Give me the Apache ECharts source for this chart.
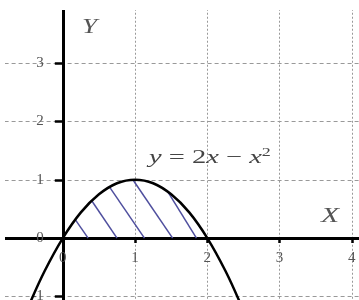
<!DOCTYPE html>
<html>
<head>
<meta charset="utf-8">
<script src="https://cdn.jsdelivr.net/npm/echarts@6/dist/echarts.min.js"></script>
<style>
  html, body { margin: 0; padding: 0; background: #fff; }
  #main { width: 359px; height: 300px; }
</style>
</head>
<body>
<div id="main"></div>
<script>
// curve y = 2x - x^2
var curveX = [-0.45, -0.25, 0, 0.25, 0.5, 0.75, 1, 1.25, 1.5, 1.75, 2, 2.25, 2.45];
var curveY = [-1.1, -0.56, 0, 0.44, 0.75, 0.94, 1, 0.94, 0.75, 0.44, 0, -0.56, -1.1];

// hatch strokes: from the x axis up to the curve
var hatchBottomX = [0.35, 0.75, 1.13, 1.52, 1.85];
var hatchTopX = [0.17, 0.40, 0.65, 0.97, 1.45];
var hatchTopY = [0.32, 0.64, 0.87, 1.0, 0.8];

var xTicks = [0, 1, 2, 3, 4];
var yTicks = [-1, 0, 1, 2, 3];

var serif = '"Liberation Serif", "DejaVu Serif", serif';

// grid: x from -1 to 5, y from -2 to 4 (runs past the canvas on purpose)
var gridLeft = -9.4, gridTop = 4.75, gridW = 433.4, gridH = 350;
var xUnit = gridW / 6, yUnit = gridH / 6;

var myChart = echarts.init(document.getElementById('main'));

var curveData = curveX.map(function (x, i) { return [x, curveY[i]]; });

var series = [];
hatchBottomX.forEach(function (bx, i) {
	series.push({
		type: 'line',
		data: [[bx, 0], [hatchTopX[i], hatchTopY[i]]],
		symbol: 'none',
		silent: true,
		lineStyle: { color: '#4f4f9e', width: 1.5 },
		z: 2
	});
});
series.push({
	type: 'line',
	data: curveData,
	smooth: 0.4,
	symbol: 'none',
	lineStyle: { color: '#000', width: 2.5 },
	z: 3
});

var option = {
	animation: false,
	grid: {
		left: gridLeft, top: gridTop, width: gridW, height: gridH,
		containLabel: false,
		outerBoundsMode: 'none'
	},
	xAxis: {
		type: 'value',
		min: -1, max: 5, interval: 1,
		position: 'bottom',
		offset: -2 * yUnit,   // move axis up to y = 0
		axisLine: { onZero: false, lineStyle: { color: '#000', width: 3 } },
		axisTick: { show: true, length: 5, lineStyle: { color: '#000', width: 2.5 } },
		axisLabel: {
			margin: 12,
			color: '#555',
			fontFamily: serif,
			fontSize: 15,
			formatter: function (v) { return xTicks.indexOf(v) >= 0 ? String(v) : ''; }
		},
		splitLine: { show: true, lineStyle: { color: '#999', width: 1, type: [2, 2] } }
	},
	yAxis: {
		type: 'value',
		min: -2, max: 4, interval: 1,
		position: 'left',
		offset: -xUnit,       // move axis right to x = 0
		axisLine: { onZero: false, lineStyle: { color: '#000', width: 3 } },
		axisTick: { show: true, length: 8, lineStyle: { color: '#000', width: 2.5 } },
		axisLabel: {
			margin: 19,
			color: '#555',
			fontFamily: serif,
			fontSize: 15,
			formatter: function (v) { return yTicks.indexOf(v) >= 0 ? String(v) : ''; }
		},
		splitLine: { show: true, lineStyle: { color: '#999', width: 1, type: [4, 3] } }
	},
	graphic: [
		{ type: 'rect', z: 100, shape: { x: 0, y: 0, width: 359, height: 10 }, style: { fill: '#fff' } },
		{ type: 'rect', z: 100, shape: { x: 0, y: 0, width: 5, height: 300 }, style: { fill: '#fff' } },
		{
			type: 'text', z: 110, x: 82, y: 17, scaleX: 1.3,
			style: { text: 'Y', fontFamily: serif, fontSize: 21, fontStyle: 'italic', fill: '#555', verticalAlign: 'top' }
		},
		{
			type: 'text', z: 110, x: 321, y: 205, scaleX: 1.35,
			style: { text: 'X', fontFamily: serif, fontSize: 22, fontStyle: 'italic', fill: '#555', verticalAlign: 'top' }
		},
		{
			type: 'text', z: 110, x: 149, y: 147, scaleX: 1.5,
			style: {
				text: '{i|y} = 2{i|x} − {i|x}{s|2}',
				fontFamily: serif, fontSize: 19, fill: '#444', lineHeight: 22, verticalAlign: 'top',
				rich: {
					i: { fontFamily: serif, fontSize: 19, fontStyle: 'italic', fill: '#444' },
					s: { fontFamily: serif, fontSize: 12, fill: '#444', verticalAlign: 'top', lineHeight: 22 }
				}
			}
		}
	],
	series: series
};

myChart.setOption(option);
</script>
</body>
</html>
